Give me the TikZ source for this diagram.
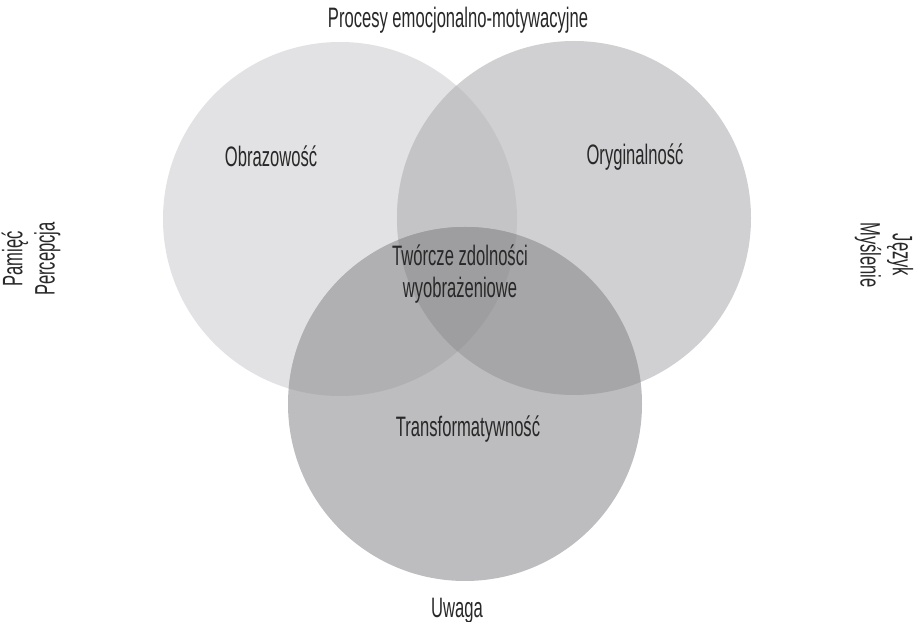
\documentclass[tikz,border=0pt]{standalone}
\usepackage{fontspec}
\setmainfont{Liberation Sans}[FakeStretch=0.59]

\definecolor{leftgray}{RGB}{226,226,228}
\definecolor{rightgray}{RGB}{208,208,210}
\definecolor{bottomgray}{RGB}{189,189,192}
\definecolor{lrgray}{RGB}{196,196,199}
\definecolor{lbgray}{RGB}{176,176,179}
\definecolor{rbgray}{RGB}{166,166,169}
\definecolor{centergray}{RGB}{158,158,161}
\definecolor{inkgray}{RGB}{40,40,40}

\tikzset{venntext/.style={text=inkgray, font=\fontsize{20}{23}\selectfont, inner sep=0pt, align=center}}

\begin{document}
\begin{tikzpicture}[x=0.025cm,y=-0.025cm]


%definitions

\def\rad{177} % circle radius
\coordinate (L) at (340,219); % left circle centre
\coordinate (R) at (574,218); % right circle centre
\coordinate (B) at (465,404); % bottom circle centre

\useasboundingbox (0,0) rectangle (915,622);

%
%circles
%

\fill[leftgray] (L) circle (\rad);
\fill[rightgray] (R) circle (\rad);
\fill[bottomgray] (B) circle (\rad);

%overlaps

\begin{scope} \clip (L) circle (\rad); \fill[lrgray] (R) circle (\rad); \end{scope} % left + right
\begin{scope} \clip (L) circle (\rad); \fill[lbgray] (B) circle (\rad); \end{scope} % left + bottom
\begin{scope} \clip (R) circle (\rad); \fill[rbgray] (B) circle (\rad); \end{scope} % right + bottom
\begin{scope} \clip (L) circle (\rad); \clip (R) circle (\rad); \fill[centergray] (B) circle (\rad); \end{scope} % all three

%
%labels
%

\node[venntext, anchor=base] (top) at (458,28) {Procesy emocjonalno-motywacyjne};
\node[venntext, anchor=base] (obraz) at (271,167) {Obrazowość};
\node[venntext, anchor=base] (orygin) at (635,165) {Oryginalność};
\node[venntext] (tworcze) at (460,274) {Twórcze zdolności\\wyobrażeniowe};
\node[venntext, anchor=base] (transf) at (468,437) {Transformatywność};
\node[venntext, anchor=base] (uwaga) at (457,617) {Uwaga};

\node[venntext, rotate=90] (lewy) at (31,259) {Pamięć\\Percepcja}; % left side
\node[venntext, rotate=-90] (prawy) at (884,255) {Język\\Myślenie}; % right side


\end{tikzpicture}
\end{document}
